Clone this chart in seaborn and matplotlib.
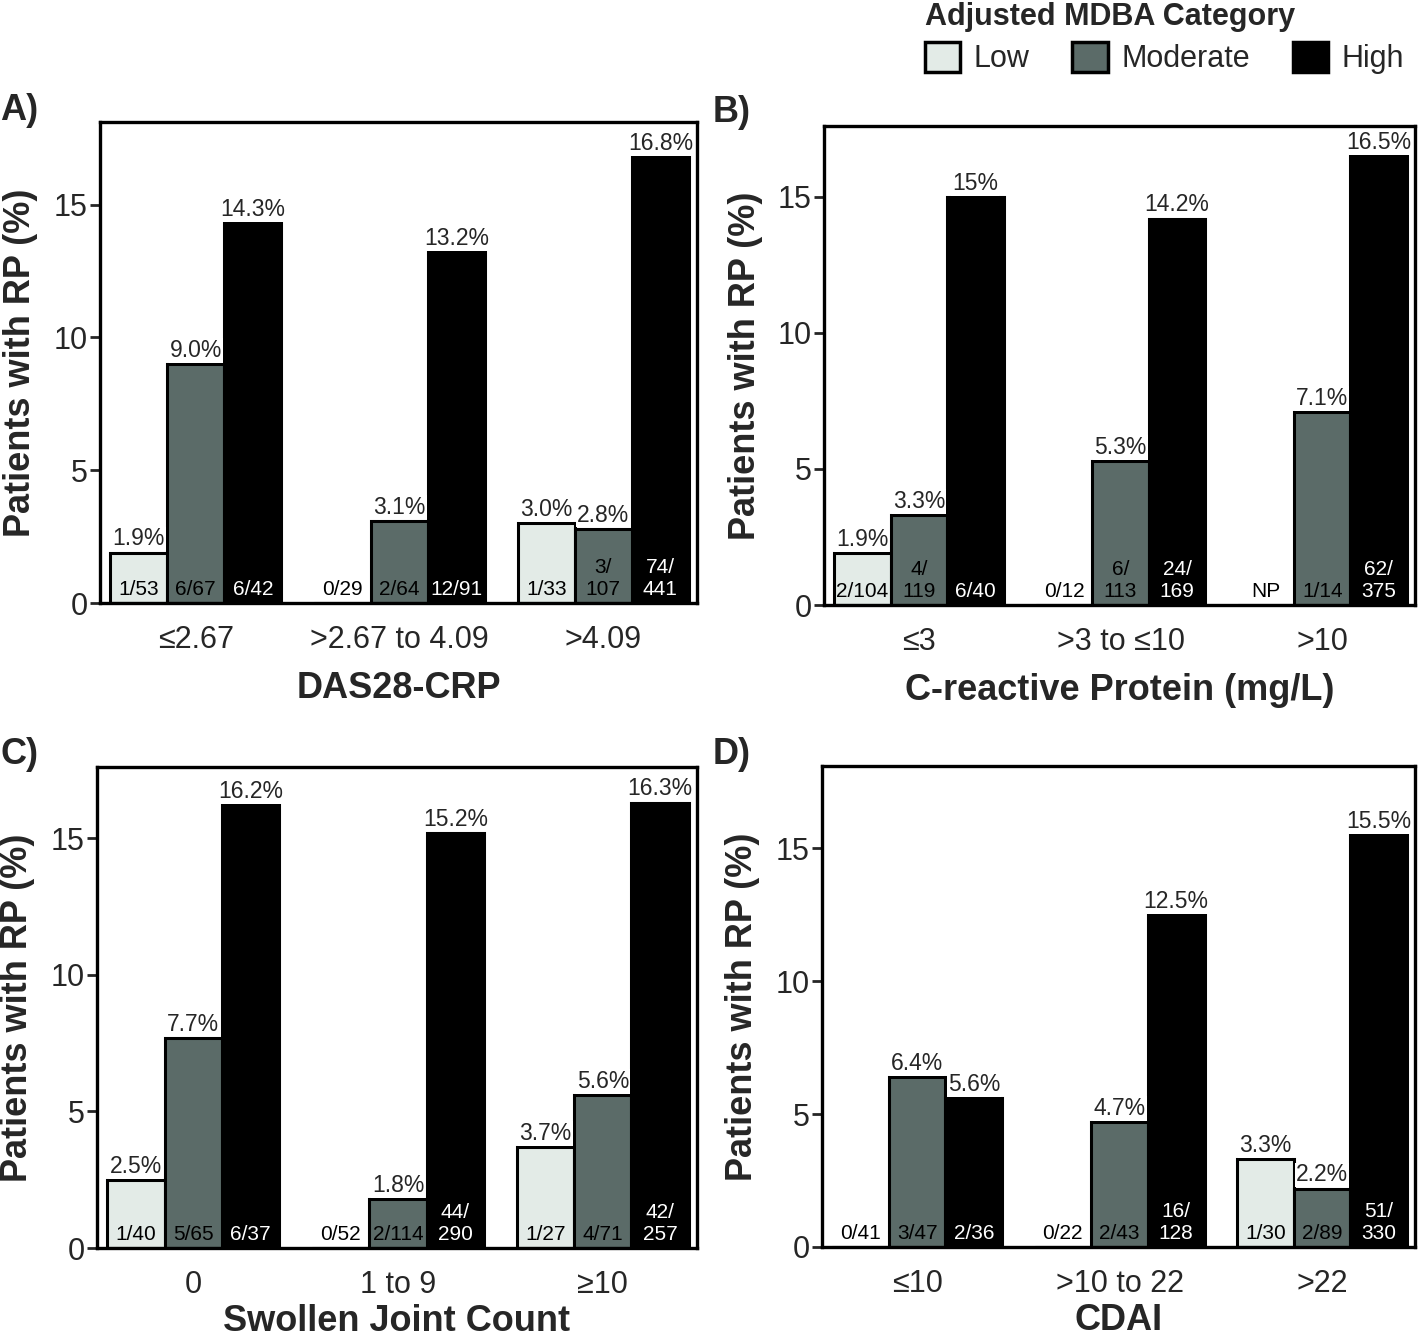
import matplotlib
matplotlib.use('Agg')
import matplotlib.pyplot as plt
from matplotlib.patches import Patch
import pandas as pd
import seaborn as sns

sns.set_style('ticks')
plt.rcParams['font.family'] = ['Liberation Sans', 'DejaVu Sans']

levels = ['Low', 'Moderate', 'High']
colors = {'Low': '#e3ebe7', 'Moderate': '#5b6b68', 'High': '#000000'}

# Panel A - DAS28-CRP
a_groups = ['≤2.67', '>2.67 to 4.09', '>4.09']
a_low = [1.9, 0.0, 3.0]
a_mod = [9.0, 3.1, 2.8]
a_high = [14.3, 13.2, 16.8]
a_pct = [['1.9%', '', '3.0%'], ['9.0%', '3.1%', '2.8%'], ['14.3%', '13.2%', '16.8%']]
a_n = [['1/53', '0/29', '1/33'], ['6/67', '2/64', '3/\n107'], ['6/42', '12/91', '74/\n441']]

# Panel B - CRP
b_groups = ['≤3', '>3 to ≤10', '>10']
b_low = [1.9, 0.0, 0.0]
b_mod = [3.3, 5.3, 7.1]
b_high = [15.0, 14.2, 16.5]
b_pct = [['1.9%', '', ''], ['3.3%', '5.3%', '7.1%'], ['15%', '14.2%', '16.5%']]
b_n = [['2/104', '0/12', 'NP'], ['4/\n119', '6/\n113', '1/14'], ['6/40', '24/\n169', '62/\n375']]

# Panel C - Swollen joint count
c_groups = ['0', '1 to 9', '≥10']
c_low = [2.5, 0.0, 3.7]
c_mod = [7.7, 1.8, 5.6]
c_high = [16.2, 15.2, 16.3]
c_pct = [['2.5%', '', '3.7%'], ['7.7%', '1.8%', '5.6%'], ['16.2%', '15.2%', '16.3%']]
c_n = [['1/40', '0/52', '1/27'], ['5/65', '2/114', '4/71'], ['6/37', '44/\n290', '42/\n257']]

# Panel D - CDAI
d_groups = ['≤10', '>10 to 22', '>22']
d_low = [0.0, 0.0, 3.3]
d_mod = [6.4, 4.7, 2.2]
d_high = [5.6, 12.5, 15.5]
d_pct = [['', '', '3.3%'], ['6.4%', '4.7%', '2.2%'], ['5.6%', '12.5%', '15.5%']]
d_n = [['0/41', '0/22', '1/30'], ['3/47', '2/43', '2/89'], ['2/36', '16/\n128', '51/\n330']]


def draw_panel(ax, groups, low, mod, high, pct, counts, xlabel, ymax, xpad):
    df = pd.DataFrame({
        'group': groups * 3,
        'level': [l for l in levels for _ in groups],
        'value': low + mod + high,
    })
    sns.barplot(data=df, x='group', y='value', hue='level', order=groups,
                hue_order=levels, palette=colors, saturation=1, width=0.84,
                edgecolor='black', linewidth=2.2, errorbar=None, legend=False, ax=ax)

    for i, cont in enumerate(ax.containers):
        txt_color = 'white' if levels[i] == 'High' else 'black'
        for j, bar in enumerate(cont.patches):
            xc = bar.get_x() + bar.get_width() / 2
            h = bar.get_height()
            if pct[i][j]:
                ax.annotate(pct[i][j], (xc, h), xytext=(0, 1.5), textcoords='offset points',
                            ha='center', va='bottom', fontsize=16.5,
                            bbox=dict(facecolor='white', edgecolor='none', pad=0.6),
                            zorder=5, annotation_clip=False)
            ax.annotate(counts[i][j], (xc, 0), xytext=(0, 3), textcoords='offset points',
                        ha='center', va='bottom', fontsize=15,
                        color=txt_color, linespacing=1.2, zorder=6)

    ax.set_xlim(-0.47, 2.46)
    ax.set_ylim(0, ymax)
    ax.set_yticks([0, 5, 10, 15])
    ax.tick_params(axis='y', labelsize=22, length=7, width=2, pad=2)
    ax.tick_params(axis='x', labelsize=22, length=0, pad=16)
    for s in ax.spines.values():
        s.set_linewidth(2.4)
        s.set_color('black')
    ax.set_xlabel(xlabel, fontsize=26, fontweight='bold', labelpad=xpad)
    ax.set_ylabel('Patients with RP (%)', fontsize=26, fontweight='bold')
    ax.yaxis.set_label_coords(-0.104, 0.5)


fig = plt.figure(figsize=(14.19, 13.43), dpi=100)
ax_a = fig.add_axes([0.0705, 0.551, 0.4207, 0.358])
ax_b = fig.add_axes([0.5807, 0.5495, 0.4165, 0.3567])
ax_c = fig.add_axes([0.0684, 0.0707, 0.4228, 0.3582])
ax_d = fig.add_axes([0.5793, 0.0715, 0.4179, 0.3581])

draw_panel(ax_a, a_groups, a_low, a_mod, a_high, a_pct, a_n, 'DAS28-CRP', 18.1, 11)
draw_panel(ax_b, b_groups, b_low, b_mod, b_high, b_pct, b_n, 'C-reactive Protein (mg/L)', 17.6, 11)
draw_panel(ax_c, c_groups, c_low, c_mod, c_high, c_pct, c_n, 'Swollen Joint Count', 17.6, 3)
draw_panel(ax_d, d_groups, d_low, d_mod, d_high, d_pct, d_n, 'CDAI', 18.1, 3)

for lab, x, y in [('A)', 0.0, 0.918), ('B)', 0.502, 0.916), ('C)', 0.0, 0.438), ('D)', 0.502, 0.438)]:
    fig.text(x, y, lab, fontsize=26, fontweight='bold', ha='left', va='center')

handles = [Patch(facecolor=colors[l], edgecolor='black', linewidth=2.5) for l in levels]
fig.legend(handles, levels, loc='upper right', bbox_to_anchor=(0.996, 1.005), ncol=3,
           frameon=False, fontsize=22, title='Adjusted MDBA Category',
           title_fontproperties={'weight': 'bold', 'size': 22}, alignment='left',
           handlelength=1.15, handleheight=1.15, handletextpad=0.45, columnspacing=1.4,
           borderaxespad=0.2, borderpad=0.1, labelspacing=0.3)

fig.savefig('out.png', dpi=100)
